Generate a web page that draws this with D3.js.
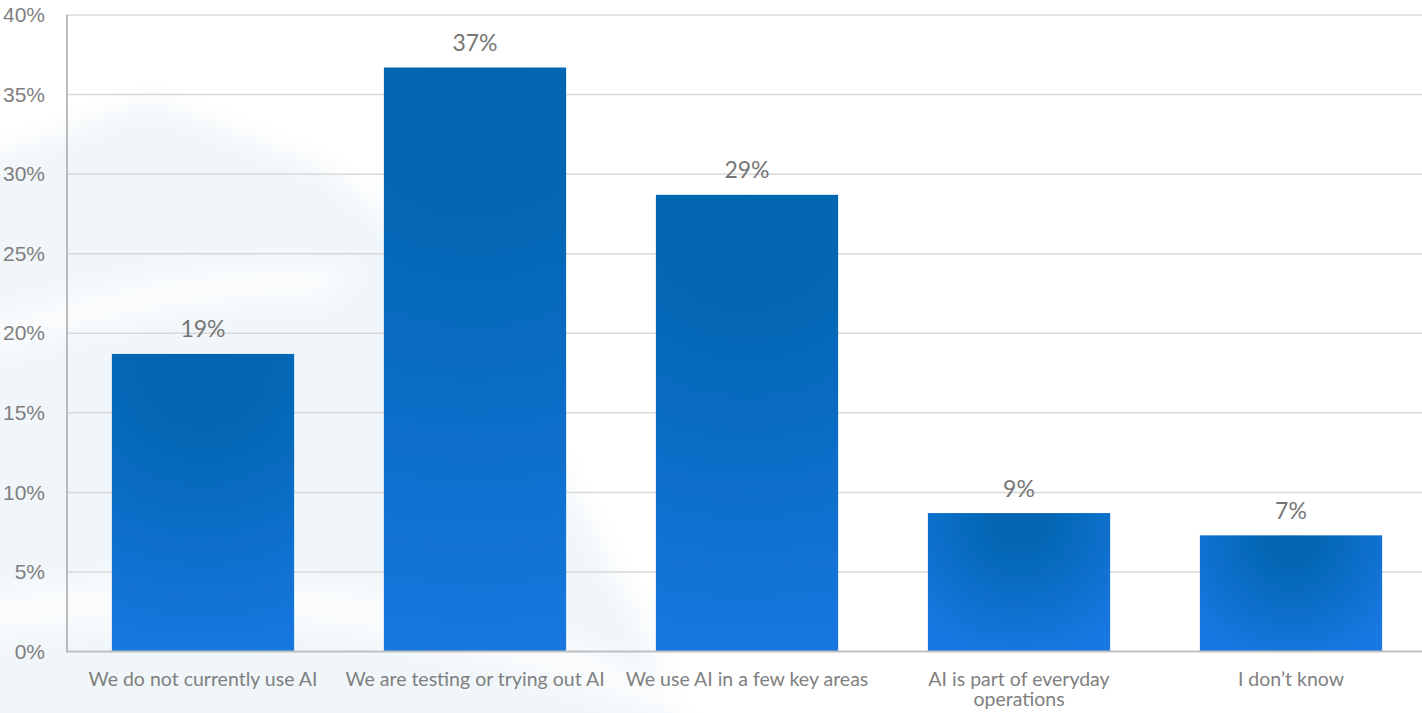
<!DOCTYPE html>
<html>
<head>
<meta charset="utf-8">
<script src="https://cdn.jsdelivr.net/npm/d3@7"></script>
<style>
  html, body { margin: 0; padding: 0; background: #ffffff; }
  svg { display: block; font-family: Lato, "Open Sans", "Noto Sans", sans-serif; }
</style>
</head>
<body>
<svg id="chart" width="1422" height="713"></svg>
<script>
// Survey answers: how organisations currently use AI (share of respondents, %)
const categories = [
  "We do not currently use AI",
  "We are testing or trying out AI",
  "We use AI in a few key areas",
  "AI is part of everyday operations",
  "I don\u2019t know"
];
const shares = [18.7, 36.7, 28.7, 8.7, 7.3];
const yTicks = [0, 5, 10, 15, 20, 25, 30, 35, 40];

const W = 1422, H = 713;
const margin = { left: 67, right: -5, top: 15, bottom: 61 };

const svg = d3.select("#chart");
const defs = svg.append("defs");

// soft backdrop artwork on the left side
const blur = defs.append("filter").attr("id", "soft")
  .attr("x", "-30%").attr("y", "-30%").attr("width", "160%").attr("height", "160%");
blur.append("feGaussianBlur").attr("stdDeviation", 14);

const bg = svg.append("g").attr("filter", "url(#soft)");
bg.append("path")
  .attr("d", "M-40,170 L150,100 L330,170 L480,300 L560,470 L640,620 L700,760 L-40,760 Z")
  .attr("fill", "#f0f6f9");
bg.append("path")
  .attr("d", "M-40,330 C80,290 220,250 360,270 L330,300 C200,300 80,330 -40,360 Z")
  .attr("fill", "#ffffff").attr("opacity", 0.8);
bg.append("path")
  .attr("d", "M-40,600 C100,575 260,570 420,600 C520,620 600,650 700,700 L680,720 C560,680 440,640 300,625 C180,615 60,625 -40,640 Z")
  .attr("fill", "#ffffff").attr("opacity", 0.8);

const x = d3.scaleBand()
  .domain(categories)
  .range([margin.left, W - margin.right])
  .paddingInner(0.33)
  .paddingOuter(0.165);

const y = d3.scaleLinear()
  .domain([0, 40])
  .range([H - margin.bottom - 0.5, margin.top]);

// horizontal gridlines
svg.append("g")
  .selectAll("line")
  .data(yTicks.filter(t => t > 0))
  .join("line")
  .attr("x1", margin.left)
  .attr("x2", W - margin.right)
  .attr("y1", d => y(d))
  .attr("y2", d => y(d))
  .attr("stroke", "#d9d9d9")
  .attr("stroke-width", 1.5);

// y axis labels
const yAxis = d3.axisLeft(y)
  .tickValues(yTicks)
  .tickFormat(d => d + "%")
  .tickSize(0)
  .tickPadding(22);
const gy = svg.append("g")
  .attr("transform", `translate(${margin.left},0)`)
  .call(yAxis);
gy.select(".domain").remove();
gy.selectAll("text")
  .attr("fill", "#7f7f7f")
  .style("font-size", "21px");

// per-bar gradient: dark at the top centre, brighter toward the base and corners
shares.forEach((v, i) => {
  const cx = x(categories[i]) + x.bandwidth() / 2;
  const top = y(v);
  const h = y(0) - top;
  const g = defs.append("radialGradient")
    .attr("id", "barGrad" + i)
    .attr("gradientUnits", "userSpaceOnUse")
    .attr("cx", cx).attr("cy", top + h * 0.03)
    .attr("fx", cx).attr("fy", top + h * 0.03)
    .attr("r", Math.max(h * 1.02, 125));
  g.append("stop").attr("offset", 0).attr("stop-color", "#0265b2");
  g.append("stop").attr("offset", 0.25).attr("stop-color", "#0367b5");
  g.append("stop").attr("offset", 1).attr("stop-color", "#1878e2");
});

// bars
svg.append("g")
  .selectAll("rect")
  .data(shares)
  .join("rect")
  .attr("x", (d, i) => x(categories[i]))
  .attr("y", d => y(d))
  .attr("width", x.bandwidth())
  .attr("height", d => y(0) - y(d))
  .attr("fill", (d, i) => `url(#barGrad${i})`);

// value labels
const fmt = d => d3.format(".0f")(d) + "%";
svg.append("g")
  .selectAll("text")
  .data(shares)
  .join("text")
  .attr("x", (d, i) => x(categories[i]) + x.bandwidth() / 2)
  .attr("y", d => y(d) - 16.5)
  .attr("text-anchor", "middle")
  .attr("fill", "#767676")
  .style("font-size", "23px")
  .text(fmt);

// axes lines
svg.append("line")
  .attr("x1", margin.left).attr("x2", margin.left)
  .attr("y1", margin.top).attr("y2", y(0) + 1)
  .attr("stroke", "#a6a6a6").attr("stroke-width", 1.5);
svg.append("line")
  .attr("x1", margin.left).attr("x2", W - margin.right)
  .attr("y1", y(0)).attr("y2", y(0))
  .attr("stroke", "#bfbfbf").attr("stroke-width", 2);

// category labels, wrapped to fit under each bar
const maxLine = x.step() * 0.975;
const catG = svg.append("g");
categories.forEach(c => {
  const t = catG.append("text")
    .attr("x", x(c) + x.bandwidth() / 2)
    .attr("y", y(0) + 34)
    .attr("text-anchor", "middle")
    .attr("fill", "#7f7f7f")
    .style("font-size", "19.5px");
  const words = c.split(" ");
  let line = [];
  let tspan = t.append("tspan").attr("x", x(c) + x.bandwidth() / 2).attr("dy", 0);
  words.forEach(w => {
    line.push(w);
    tspan.text(line.join(" "));
    if (tspan.node().getComputedTextLength() > maxLine && line.length > 1) {
      line.pop();
      tspan.text(line.join(" "));
      line = [w];
      tspan = t.append("tspan")
        .attr("x", x(c) + x.bandwidth() / 2)
        .attr("dy", "1.05em")
        .text(w);
    }
  });
});
</script>
</body>
</html>
